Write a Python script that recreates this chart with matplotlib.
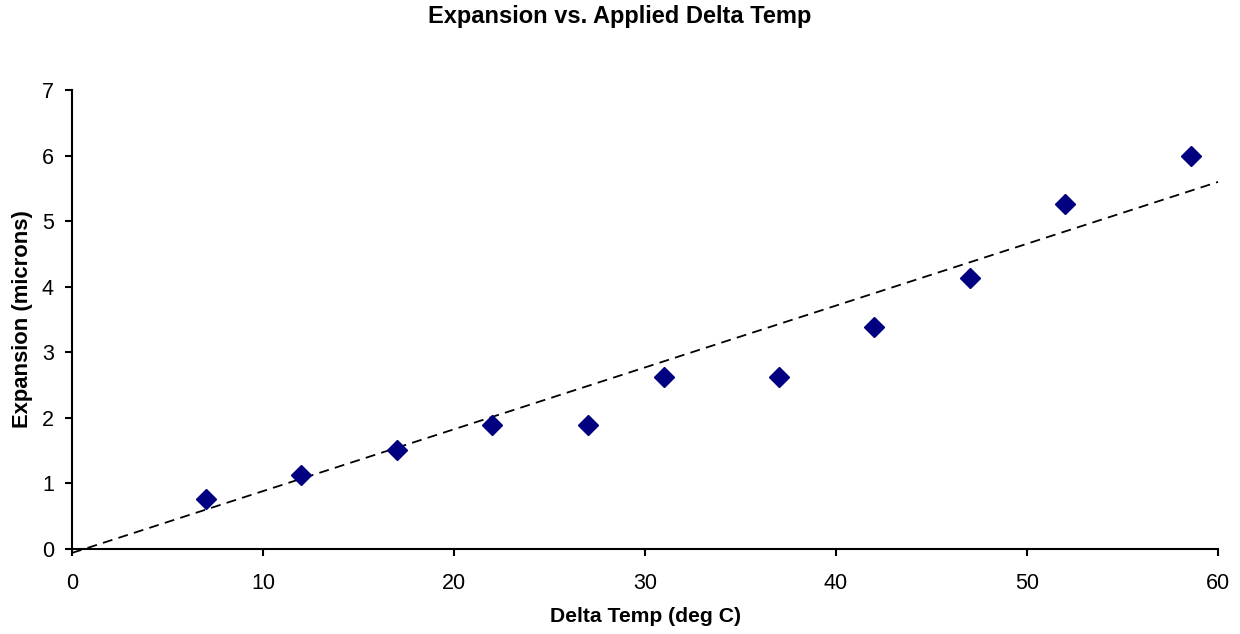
import matplotlib
matplotlib.use("Agg")
import matplotlib.pyplot as plt
from matplotlib import font_manager as fm
import numpy as np

fm.fontManager.ttflist = [f for f in fm.fontManager.ttflist if 'Narrow' not in f.fname]
plt.rcParams['font.family'] = ['Liberation Sans', 'DejaVu Sans']

delta_temp = [7, 12, 17, 22, 27, 31, 37, 42, 47, 52, 58.6]
expansion = [0.76, 1.13, 1.51, 1.89, 1.89, 2.63, 2.63, 3.38, 4.13, 5.26, 6.0]
trend_intercept = -0.06
trend_slope = 0.0943
x_ticks = [0, 10, 20, 30, 40, 50, 60]
y_ticks = [0, 1, 2, 3, 4, 5, 6, 7]

fig = plt.figure(figsize=(12.4, 6.34), dpi=100)
ax = fig.add_axes([72/1240, 85/634, (1218-72)/1240, (549-90)/634])

tx = np.array([0, 60])
ax.plot(tx, trend_intercept + trend_slope * tx, color='black', linestyle=(0, (5.5, 3.5)),
        linewidth=1.3, zorder=2, clip_on=False)
ax.plot(delta_temp, expansion, linestyle='none', marker='D', markersize=10.5,
        color='#000080', markeredgecolor='#000080', zorder=3, clip_on=False)

ax.set_xlim(0, 60)
ax.set_ylim(0, 7)
ax.set_xticks(x_ticks)
ax.set_yticks(y_ticks)
for s in ['top', 'right']:
    ax.spines[s].set_visible(False)
for s in ['left', 'bottom']:
    ax.spines[s].set_linewidth(1.5)
ax.tick_params(direction='out', length=5, width=1.5, labelsize=15.5)
ax.tick_params(axis='x', pad=12)
ax.tick_params(axis='y', pad=8)

ax.set_xlabel('Delta Temp (deg C)', fontsize=15.2, fontweight='bold', labelpad=10)
ax.set_ylabel('Expansion (microns)', fontsize=15.8, fontweight='bold', labelpad=6)
fig.text(0.5, 1 - 16/634, 'Expansion vs. Applied Delta Temp', ha='center', va='center',
         fontsize=17, fontweight='bold')

fig.savefig('out.png', dpi=100)
